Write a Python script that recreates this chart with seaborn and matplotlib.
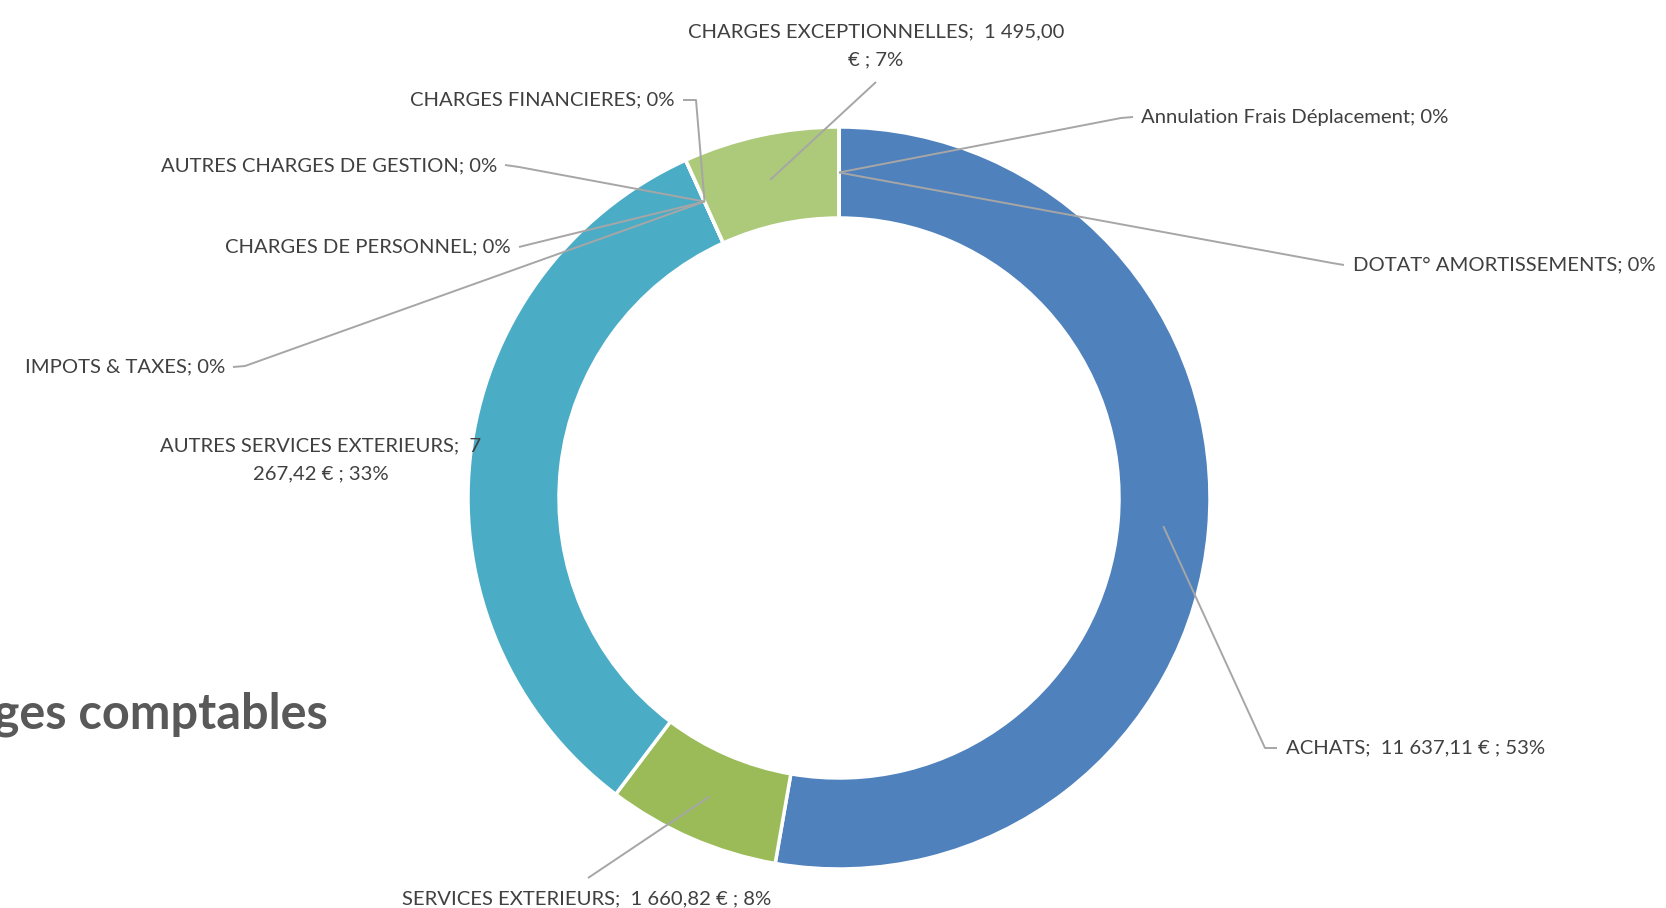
import textwrap
import numpy as np
import matplotlib
matplotlib.use("Agg")
import matplotlib.pyplot as plt
import seaborn as sns

# data
categories = ["ACHATS", "SERVICES EXTERIEURS", "AUTRES SERVICES EXTERIEURS",
              "IMPOTS & TAXES", "CHARGES DE PERSONNEL", "AUTRES CHARGES DE GESTION",
              "CHARGES FINANCIERES", "CHARGES EXCEPTIONNELLES",
              "DOTAT° AMORTISSEMENTS", "Annulation Frais Déplacement"]
amounts = [11637.11, 1660.82, 7267.42, 0, 0, 0, 0, 1495.00, 0, 0]
colors = ["#4F81BD", "#9BBB59", "#4BACC6", "#8064A2", "#F79646", "#C0504D",
          "#7F7F7F", "#ADC97A", "#2C4D75", "#5F7530"]
title = "Charges comptables"

W, H = 1666, 908
CX, CY, R, R_IN = 839, 498, 371, 280

# label layout (pixel positions, top-left origin): x, y, ha, wrap width
layout = {
    "ACHATS": (1286, 748, "left", None),
    "SERVICES EXTERIEURS": (587, 899, "center", None),
    "AUTRES SERVICES EXTERIEURS": (321, 460, "center", 34),
    "IMPOTS & TAXES": (225, 367, "right", None),
    "CHARGES DE PERSONNEL": (511, 247, "right", None),
    "AUTRES CHARGES DE GESTION": (497, 166, "right", None),
    "CHARGES FINANCIERES": (675, 100, "right", None),
    "CHARGES EXCEPTIONNELLES": (876, 46, "center", 34),
    "DOTAT° AMORTISSEMENTS": (1353, 265, "left", None),
    "Annulation Frais Déplacement": (1141, 117, "left", None),
}
# where the leader line leaves the label (None = no line)
leader_start = {
    "ACHATS": [(1277, 748), (1265, 748)],
    "SERVICES EXTERIEURS": [(588, 878)],
    "AUTRES SERVICES EXTERIEURS": None,
    "IMPOTS & TAXES": [(233, 367), (245, 366)],
    "CHARGES DE PERSONNEL": [(519, 247), (531, 244)],
    "AUTRES CHARGES DE GESTION": [(505, 165), (519, 167)],
    "CHARGES FINANCIERES": [(683, 100), (696, 100)],
    "CHARGES EXCEPTIONNELLES": [(876, 82)],
    "DOTAT° AMORTISSEMENTS": [(1344, 265), (1332, 263)],
    "Annulation Frais Déplacement": [(1133, 117), (1121, 118)],
}


def fy(y):
    return H - y


def fmt_eur(v):
    return f"{v:,.2f}".replace(",", " ").replace(".", ",")


sns.set_theme(style="white")
plt.rcParams["font.family"] = ["Lato", "DejaVu Sans"]

fig = plt.figure(figsize=(W / 100, H / 100), dpi=100)
ax = fig.add_axes([0, 0, 1, 1])
ax.set_xlim(0, W)
ax.set_ylim(0, H)
ax.set_aspect("equal")
ax.axis("off")

wedges, _ = ax.pie(amounts, colors=colors, startangle=90, counterclock=False,
                   radius=R, center=(CX, fy(CY)),
                   wedgeprops=dict(width=R - R_IN, edgecolor="white", linewidth=2.5))
ax.set_xlim(0, W)
ax.set_ylim(0, H)

total = sum(amounts)
r_mid = (R + R_IN) / 2
line_col = "#A6A6A6"
text_col = "#404040"

for w, name, v in zip(wedges, categories, amounts):
    pct = round(100 * v / total)
    if v > 0:
        txt = f"{name};  {fmt_eur(v)} € ; {pct}%"
    else:
        txt = f"{name}; {pct}%"
    x, y, ha, wrap = layout[name]
    if wrap:
        txt = textwrap.fill(txt, width=wrap)
    ax.text(x, fy(y), txt, ha=ha, va="center", fontsize=14.6, color=text_col,
            linespacing=1.75, zorder=5)

    pts = leader_start[name]
    if pts:
        ang = np.deg2rad((w.theta1 + w.theta2) / 2)
        ax_x = CX + r_mid * np.cos(ang)
        ax_y = fy(CY) + r_mid * np.sin(ang)
        xs = [p[0] for p in pts] + [ax_x]
        ys = [fy(p[1]) for p in pts] + [ax_y]
        ax.plot(xs, ys, color=line_col, lw=1.4, zorder=4, solid_capstyle="butt")

fig.text(328 / W, 1 - 714 / H, title, ha="right", va="center", fontsize=35,
         fontweight="bold", color="#595959")

fig.savefig("out.png", dpi=100, facecolor="white")
